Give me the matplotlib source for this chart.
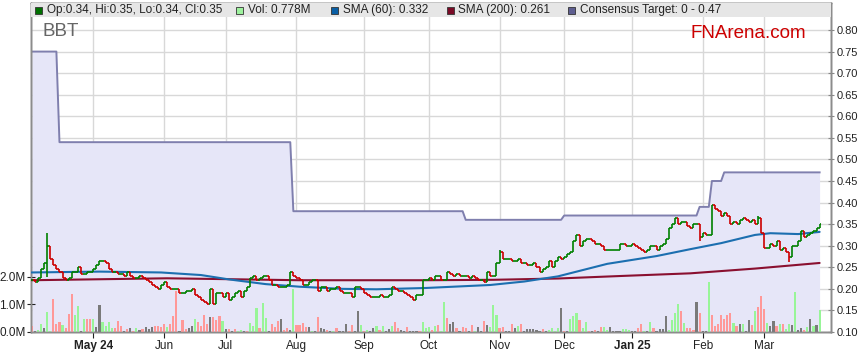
import numpy as np
import pandas as pd
import matplotlib
matplotlib.use("Agg")
import matplotlib.pyplot as plt
from matplotlib.patches import Rectangle

# ---------------- data ----------------
dates = pd.bdate_range("2024-04-03", periods=257)

close = [
    # Apr - early Jun
    0.220, 0.215, 0.225, 0.245, 0.260, 0.300, 0.270, 0.255, 0.245, 0.240,
    0.225, 0.220, 0.225, 0.240, 0.240, 0.250, 0.235, 0.235, 0.240, 0.240,
    0.245, 0.255, 0.265, 0.265, 0.260, 0.245, 0.240, 0.240, 0.235, 0.235,
    0.230, 0.240, 0.230, 0.225, 0.225, 0.230, 0.225, 0.220, 0.215, 0.210,
    0.205, 0.200,
    # Jun - Jul
    0.210, 0.215, 0.205, 0.200, 0.200, 0.200, 0.190, 0.190, 0.195, 0.195,
    0.200, 0.185, 0.180, 0.175, 0.170, 0.165, 0.200, 0.165, 0.190, 0.190,
    0.180, 0.190, 0.175, 0.180, 0.190, 0.195, 0.180, 0.195, 0.205, 0.225,
    0.230, 0.220, 0.225, 0.230, 0.230, 0.220, 0.210, 0.210, 0.205, 0.205,
    0.205, 0.210, 0.240,
    # Aug - Sep
    0.230, 0.225, 0.220, 0.210, 0.210, 0.215, 0.220, 0.220, 0.195, 0.205,
    0.205, 0.195, 0.200, 0.200, 0.205, 0.195, 0.190, 0.190, 0.190, 0.180,
    0.205, 0.205, 0.200, 0.190, 0.185, 0.180, 0.180, 0.180, 0.185, 0.180,
    0.180, 0.185, 0.205, 0.200, 0.195, 0.195, 0.190, 0.185, 0.180, 0.175,
    0.185, 0.185, 0.220,
    # Oct - Nov
    0.220, 0.225, 0.220, 0.230, 0.230, 0.220, 0.220, 0.240, 0.235, 0.230,
    0.235, 0.230, 0.230, 0.230, 0.225, 0.230, 0.225, 0.220, 0.220, 0.215,
    0.240, 0.230, 0.230, 0.260, 0.285, 0.270, 0.270, 0.270, 0.265, 0.265,
    0.270, 0.260, 0.260, 0.255, 0.255, 0.260, 0.250, 0.240, 0.245, 0.250,
    0.265, 0.250, 0.265,
    # Dec - Jan
    0.275, 0.270, 0.275, 0.280, 0.285, 0.310, 0.325, 0.300, 0.310, 0.315,
    0.315, 0.310, 0.305, 0.305, 0.300, 0.290, 0.290, 0.290, 0.290, 0.290,
    0.305, 0.305, 0.300, 0.300, 0.305, 0.300, 0.295, 0.290, 0.285, 0.290,
    0.300, 0.300, 0.290, 0.300, 0.305, 0.315, 0.340, 0.350, 0.365, 0.350,
    0.355, 0.355, 0.345,
    # Feb - Mar
    0.340, 0.350, 0.350, 0.320, 0.330, 0.325, 0.325, 0.395, 0.385, 0.380,
    0.370, 0.375, 0.370, 0.350, 0.355, 0.350, 0.360, 0.365, 0.360, 0.355,
    0.360, 0.350, 0.365, 0.330, 0.295, 0.295, 0.305, 0.300, 0.310, 0.290,
    0.295, 0.285, 0.275, 0.300, 0.300, 0.310, 0.335, 0.320, 0.325, 0.330,
    0.335, 0.340, 0.350,
]

wick_high = {5: 0.330, 152: 0.290, 236: 0.370}
wick_low = {5: 0.228, 217: 0.310, 246: 0.263}

volume_m = [
    0.22, 0.04, 0.07, 0.29, 0.14, 0.72, 0.02, 1.19, 0.29, 0.36,
    0.25, 0.14, 0.65, 1.37, 0.61, 0.94, 0.03, 0.47, 0.47, 0.47,
    0.47, 0.18, 0.97, 0.36, 0.22, 0.36, 0.14, 0.14, 0.40, 0.22,
    0.03, 0.11, 0.14, 0.04, 0.14, 0.07, 0.11, 0.18, 0.11, 0.18,
    0.22, 0.22,
    0.19, 0.29, 0.18, 0.29, 0.58, 1.48, 0.02, 0.43, 0.11, 0.14,
    0.22, 0.47, 0.36, 0.22, 0.61, 0.29, 0.54, 0.54, 0.43, 0.58,
    0.40, 0.11, 0.11, 0.04, 0.11, 0.04, 0.07, 0.04, 0.04, 0.32,
    0.22, 0.87, 0.14, 1.05, 0.50, 0.02, 0.29, 0.18, 0.40, 0.47,
    0.07, 0.14, 0.07,
    1.55, 0.25, 0.25, 0.32, 0.18, 0.18, 0.04, 0.02, 0.54, 0.14,
    0.11, 0.07, 0.02, 0.04, 0.14, 0.02, 0.02, 0.29, 0.04, 0.25,
    0.03, 0.76, 0.25, 0.04, 0.07, 0.02, 0.14, 0.22, 0.07, 0.22,
    0.02, 0.11, 0.22, 0.36, 0.14, 0.07, 0.02, 0.18, 0.04, 0.02,
    0.02, 0.04, 0.36,
    0.14, 0.18, 0.07, 0.22, 0.25, 0.04, 1.08, 0.50, 0.29, 0.36,
    0.14, 0.03, 0.18, 0.14, 0.03, 0.25, 0.04, 0.18, 0.03, 0.40,
    0.25, 0.18, 0.97, 0.61, 0.14, 0.18, 0.03, 0.04, 0.29, 0.14,
    0.22, 0.29, 0.03, 0.11, 0.11, 0.11, 0.07, 0.03, 0.11, 0.04,
    0.07, 0.14, 0.03,
    0.14, 0.87, 0.04, 0.03, 0.47, 0.58, 0.69, 0.43, 0.14, 0.36,
    0.04, 0.03, 0.07, 0.03, 0.18, 0.18, 0.07, 0.18, 0.02, 0.02,
    0.02, 0.11, 0.11, 0.07, 0.02, 0.03, 0.14, 0.29, 0.04, 0.03,
    0.36, 0.14, 0.03, 0.11, 0.11, 0.58, 0.07, 0.43, 0.69, 1.01,
    0.76, 0.32, 0.14,
    0.14, 0.07, 1.08, 0.69, 0.02, 0.03, 1.81, 0.61, 0.22, 0.29,
    0.61, 0.47, 0.61, 0.69, 0.31, 0.22, 0.29, 0.29, 0.03, 0.43,
    0.25, 0.76, 0.90, 1.30, 0.84, 0.32, 0.22, 0.40, 0.22, 0.29,
    0.29, 0.11, 0.29, 0.25, 1.44, 0.07, 0.14, 0.07, 0.17, 0.48,
    0.22, 0.25, 0.79,
]

# volume bar colour per day: g = up, r = down, k = unchanged
volume_dir = (
    "rkggkggrrrgrrrggkgrrgkkggggrrrkrkrgkrkkkrr"
    "rrgrrrkrrkkgrrrrkrrrgkrkrggkrgggrggkrrrkrrk"
    "grrrrkgkrkkrkgrkkkrrkkgrgkkgrgkkgrrkkrkkkrg"
    "ggrgrggrkkrkrrkrgkkrkgggrrkkrkgrkkkkkkrkggg"
    "gkrkgggrggrkrkrggkkkkgggkkrrgkgrkkkkggggrgr"
    "rrkrkkgrrrrrrrgrkgkkrgrrrgkkrgrggkgkkrgkgkg"
)

# consensus target: day index where a level starts, and that level
target_start = [0, 9, 85, 141, 173, 217, 221, 225]
target_level = [0.75, 0.54, 0.38, 0.36, 0.37, 0.39, 0.45, 0.47]

sma60_day = [0, 22, 42, 55, 64, 76, 87, 101, 112, 128, 149, 160, 171, 187, 203, 214, 224, 235, 240, 249, 256]
sma60_val = [0.238, 0.240, 0.238, 0.232, 0.222, 0.211, 0.205, 0.200, 0.199, 0.202, 0.209, 0.217,
             0.229, 0.258, 0.276, 0.292, 0.306, 0.325, 0.329, 0.327, 0.332]
sma200_day = [0, 44, 87, 128, 150, 171, 192, 214, 235, 256]
sma200_val = [0.220, 0.2245, 0.220, 0.220, 0.221, 0.224, 0.230, 0.236, 0.247, 0.260]

month_labels = ["May 24", "Jun", "Jul", "Aug", "Sep", "Oct", "Nov", "Dec", "Jan 25", "Feb", "Mar"]
price_ticks = [0.10, 0.15, 0.20, 0.25, 0.30, 0.35, 0.40, 0.45, 0.50, 0.55, 0.60, 0.65, 0.70, 0.75, 0.80]
volume_ticks = [0.0, 1.0, 2.0]

legend_text = ["Op:0.34, Hi:0.35, Lo:0.34, Cl:0.35", "Vol: 0.778M", "SMA (60): 0.332",
               "SMA (200): 0.261", "Consensus Target: 0 - 0.47"]

# ---------------- figure ----------------
W, H = 859, 363
FONT = "Liberation Sans"
plt.rcParams["font.family"] = [FONT, "DejaVu Sans"]
fig = plt.figure(figsize=(W / 100, H / 100), dpi=100)
fig.patch.set_facecolor("white")

L, R, T, B = 31, 831, 3, 332
ax = fig.add_axes([L / W, 1 - B / H, (R - L) / W, (B - T) / H])
axv = ax.twinx()
axt = ax.twinx()

n = len(close)
x = np.arange(n)
c = np.array(close)
o = np.r_[c[0], c[:-1]]
hi = np.maximum(o, c)
lo = np.minimum(o, c)
for k, v in wick_high.items():
    hi[k] = max(hi[k], v)
for k, v in wick_low.items():
    lo[k] = min(lo[k], v)

xlim = (-0.25, 259.7)
ylim_p = (0.10, 0.8626)
ylim_v = (0.0, (B - T) / 27.75)
for a in (ax, axt):
    a.set_xlim(*xlim)
    a.set_ylim(*ylim_p)
axv.set_xlim(*xlim)
axv.set_ylim(*ylim_v)

# month ticks
month_pos = []
prev = (dates[0].year, dates[0].month)
for i, d in enumerate(dates):
    key = (d.year, d.month)
    if key != prev:
        month_pos.append(i)
        prev = key
month_pos = month_pos[:len(month_labels)]

# grid + target fill (base axes)
ax.set_axisbelow(True)
ax.set_xticks(month_pos)
ax.set_xticklabels(month_labels)
for lbl in ax.get_xticklabels():
    if " " in lbl.get_text():
        lbl.set_fontweight("bold")
ax.set_yticks(price_ticks)
ax.set_yticklabels([f"{v:.2f}" for v in price_ticks])
ax.grid(True, color="#d8d8d8", lw=1.0)
ax.yaxis.tick_right()
ax.tick_params(axis="y", which="both", right=True, left=False, direction="inout", length=4,
               color="#888888", labelsize=8, pad=2, labelcolor="#222222")
ax.tick_params(axis="x", direction="out", length=4, color="#222222", labelsize=8.5,
               pad=1.5, labelcolor="#222222")

target = np.zeros(n)
for s, lv in zip(target_start, target_level):
    target[s:] = lv
ax.fill_between(x, ylim_p[0], target, color="#e6e6f8", lw=0, zorder=1)
ax.plot(x, target, color="#7f7fae", lw=1.4, zorder=2)

# volume
vcol = {"g": "#98f598", "r": "#ff9898", "k": "#7a7a7a"}
axv.bar(x, volume_m, width=0.7, color=[vcol[ch] for ch in volume_dir], lw=0, zorder=3)
axv.yaxis.tick_left()
axv.set_yticks(volume_ticks)
axv.set_yticklabels([f"{v:.1f}M" for v in volume_ticks])
axv.tick_params(axis="y", left=True, right=False, direction="inout", length=6, color="#222222",
                labelsize=8.5, pad=1, labelcolor="#222222")
axv.tick_params(axis="x", bottom=False, labelbottom=False)

# SMAs and price bars
axt.plot(sma200_day, sma200_val, color="#8a1030", lw=1.5, zorder=4, solid_capstyle="round")
axt.plot(sma60_day, sma60_val, color="#1c6fb0", lw=1.5, zorder=4, solid_capstyle="round")
pcol = np.where(c >= o, "#008000", "#cc0000")
axt.vlines(x, lo, hi, colors=pcol, lw=1.2, zorder=5)
axt.hlines(o, x - 0.5, x, colors=pcol, lw=1.2, zorder=5)
axt.hlines(c, x, x + 0.5, colors=pcol, lw=1.2, zorder=5)
axt.set_yticks([])
axt.tick_params(axis="x", bottom=False, labelbottom=False)

for a in (ax, axv, axt):
    for sp in a.spines.values():
        sp.set_color("#8c8c8c")
        sp.set_linewidth(1.0)

# legend band
band_top, band_bot = T, 16.5
axt.add_patch(Rectangle((0, (B - band_bot) / (B - T)), 1, (band_bot - band_top) / (B - T),
                        transform=axt.transAxes, facecolor="#e6e6e6", edgecolor="none", zorder=10))
sq_cols = ["#007000", "#9ef29e", "#0a5fa5", "#7a0a26", "#5e5e90"]
sq_x = [35, 236, 331, 447, 568]
tx_x = [47, 248, 343, 458, 580]
ly = 10
for sx, txx, sc, t in zip(sq_x, tx_x, sq_cols, legend_text):
    fig.patches.append(Rectangle((sx / W, 1 - (ly + 3.5) / H), 7 / W, 7 / H, transform=fig.transFigure,
                                 facecolor=sc, edgecolor="#333333", lw=0.6, zorder=20))
    fig.text(txx / W, 1 - ly / H, t, fontsize=8.5, va="center", ha="left", color="#222222",
             zorder=21)

fig.text(42 / W, 1 - 32 / H, "BBT", fontsize=13.5, color="#666666", va="center", ha="left")
fig.text(690 / W, 1 - 33 / H, "FNArena.com", fontsize=13.5, color="#cc0000", va="center", ha="left")

fig.savefig("out.png", dpi=100)
